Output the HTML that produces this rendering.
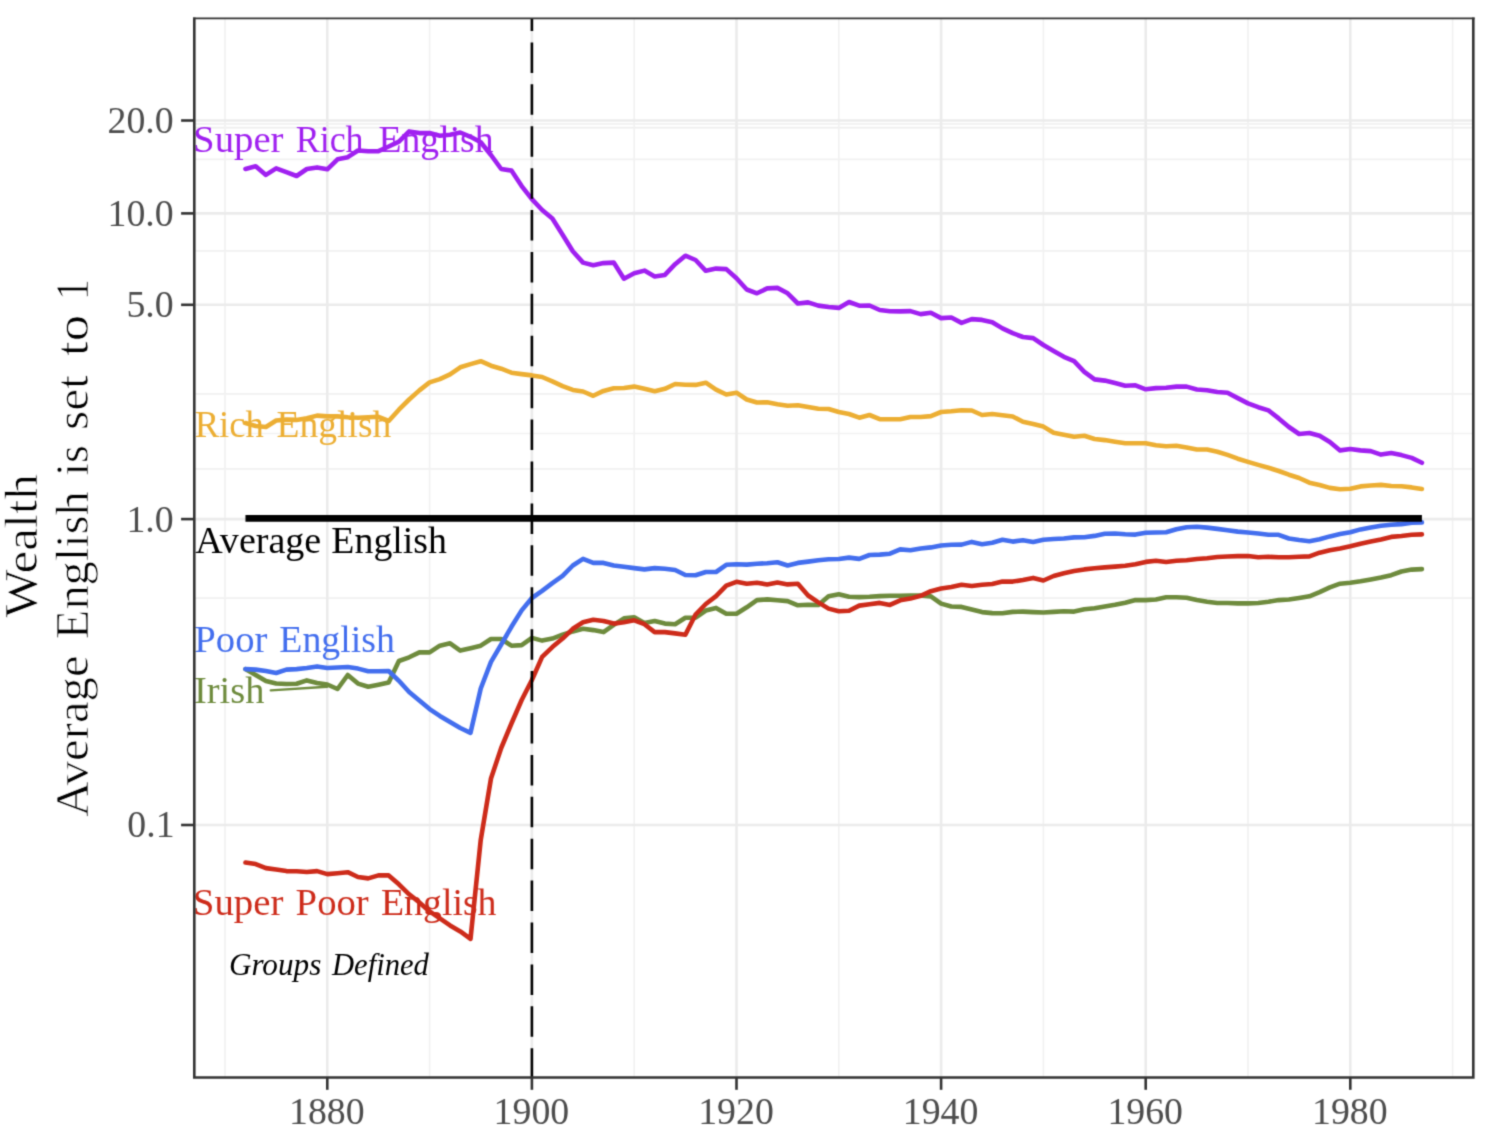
<!DOCTYPE html><html><head><meta charset="utf-8"><title>Wealth chart</title><style>
html,body{margin:0;padding:0;background:#fff;}body{width:1492px;height:1148px;overflow:hidden;}
svg{display:block;}text{font-family:"Liberation Serif","DejaVu Serif",serif;}
.er{stroke:none;stroke-width:0;paint-order:fill stroke;}.er2{stroke:#fff;stroke-width:0.7px;paint-order:fill stroke;}
</style></head><body>
<svg width="1492" height="1148" viewBox="0 0 1492 1148">
<defs><filter id="sf" filterUnits="userSpaceOnUse" x="0" y="0" width="1492" height="1148" color-interpolation-filters="sRGB"><feConvolveMatrix order="3" kernelMatrix="1 4 1 4 16 4 1 4 1" divisor="36" edgeMode="duplicate"/></filter></defs><g filter="url(#sf)">
<rect x="0" y="0" width="1492" height="1148" fill="#fff"/>
<defs><clipPath id="pc"><rect x="194.3" y="18.3" width="1279.0" height="1059.2"/></clipPath></defs>
<g clip-path="url(#pc)">
<line x1="194.3" x2="1473.3" y1="123.9" y2="123.9" stroke="#f1f1f1" stroke-width="1.7"/>
<line x1="194.3" x2="1473.3" y1="159.4" y2="159.4" stroke="#f1f1f1" stroke-width="1.7"/>
<line x1="194.3" x2="1473.3" y1="250.9" y2="250.9" stroke="#f1f1f1" stroke-width="1.7"/>
<line x1="194.3" x2="1473.3" y1="393.8" y2="393.8" stroke="#f1f1f1" stroke-width="1.7"/>
<line x1="194.3" x2="1473.3" y1="433.5" y2="433.5" stroke="#f1f1f1" stroke-width="1.7"/>
<line x1="194.3" x2="1473.3" y1="468.8" y2="468.8" stroke="#f1f1f1" stroke-width="1.7"/>
<line x1="194.3" x2="1473.3" y1="598.2" y2="598.2" stroke="#f1f1f1" stroke-width="1.7"/>
<line x1="194.3" x2="1473.3" y1="127.6" y2="127.6" stroke="#eeeeee" stroke-width="1.9"/>
<line y1="18.3" y2="1077.5" x1="225.00" x2="225.00" stroke="#f1f1f1" stroke-width="1.7"/>
<line y1="18.3" y2="1077.5" x1="429.60" x2="429.60" stroke="#f1f1f1" stroke-width="1.7"/>
<line y1="18.3" y2="1077.5" x1="634.20" x2="634.20" stroke="#f1f1f1" stroke-width="1.7"/>
<line y1="18.3" y2="1077.5" x1="838.80" x2="838.80" stroke="#f1f1f1" stroke-width="1.7"/>
<line y1="18.3" y2="1077.5" x1="1043.40" x2="1043.40" stroke="#f1f1f1" stroke-width="1.7"/>
<line y1="18.3" y2="1077.5" x1="1248.00" x2="1248.00" stroke="#f1f1f1" stroke-width="1.7"/>
<line y1="18.3" y2="1077.5" x1="1452.60" x2="1452.60" stroke="#f1f1f1" stroke-width="1.7"/>
<line x1="194.3" x2="1473.3" y1="120.5" y2="120.5" stroke="#ebebeb" stroke-width="2.6"/>
<line x1="194.3" x2="1473.3" y1="213.4" y2="213.4" stroke="#ebebeb" stroke-width="2.6"/>
<line x1="194.3" x2="1473.3" y1="304.8" y2="304.8" stroke="#ebebeb" stroke-width="2.6"/>
<line x1="194.3" x2="1473.3" y1="519.1" y2="519.1" stroke="#ebebeb" stroke-width="2.6"/>
<line x1="194.3" x2="1473.3" y1="825.0" y2="825.0" stroke="#ebebeb" stroke-width="2.6"/>
<line y1="18.3" y2="1077.5" x1="327.30" x2="327.30" stroke="#ebebeb" stroke-width="2.6"/>
<line y1="18.3" y2="1077.5" x1="531.90" x2="531.90" stroke="#ebebeb" stroke-width="2.6"/>
<line y1="18.3" y2="1077.5" x1="736.50" x2="736.50" stroke="#ebebeb" stroke-width="2.6"/>
<line y1="18.3" y2="1077.5" x1="941.10" x2="941.10" stroke="#ebebeb" stroke-width="2.6"/>
<line y1="18.3" y2="1077.5" x1="1145.70" x2="1145.70" stroke="#ebebeb" stroke-width="2.6"/>
<line y1="18.3" y2="1077.5" x1="1350.30" x2="1350.30" stroke="#ebebeb" stroke-width="2.6"/>
<text x="193.08" y="152.00" font-size="38.6" fill="#a020f0" textLength="90.43" lengthAdjust="spacingAndGlyphs" class="er">Super</text>
<text x="295.71" y="152.00" font-size="38.6" fill="#a020f0" textLength="67.88" lengthAdjust="spacingAndGlyphs" class="er">Rich</text>
<text x="378.56" y="152.00" font-size="38.6" fill="#a020f0" textLength="115.03" lengthAdjust="spacingAndGlyphs" class="er">English</text>
<text x="194.69" y="436.50" font-size="38.6" fill="#ecae33" textLength="69.21" lengthAdjust="spacingAndGlyphs" class="er">Rich</text>
<text x="276.57" y="436.50" font-size="38.6" fill="#ecae33" textLength="114.73" lengthAdjust="spacingAndGlyphs" class="er">English</text>
<text x="195.22" y="553.00" font-size="38.6" fill="#000000" textLength="126.01" lengthAdjust="spacingAndGlyphs" class="er">Average</text>
<text x="331.36" y="553.00" font-size="38.6" fill="#000000" textLength="115.64" lengthAdjust="spacingAndGlyphs" class="er">English</text>
<text x="194.34" y="652.20" font-size="38.6" fill="#436eee" textLength="73.12" lengthAdjust="spacingAndGlyphs" class="er">Poor</text>
<text x="279.36" y="652.20" font-size="38.6" fill="#436eee" textLength="115.44" lengthAdjust="spacingAndGlyphs" class="er">English</text>
<text x="194.06" y="702.90" font-size="38.6" fill="#6e8b3d" textLength="70.34" lengthAdjust="spacingAndGlyphs" class="er">Irish</text>
<text x="192.77" y="914.80" font-size="38.6" fill="#cd2b1a" textLength="90.74" lengthAdjust="spacingAndGlyphs" class="er">Super</text>
<text x="295.64" y="914.80" font-size="38.6" fill="#cd2b1a" textLength="73.12" lengthAdjust="spacingAndGlyphs" class="er">Poor</text>
<text x="381.06" y="914.80" font-size="38.6" fill="#cd2b1a" textLength="115.44" lengthAdjust="spacingAndGlyphs" class="er">English</text>
<text x="228.89" y="974.50" font-size="31.6" fill="#000" font-style="italic" textLength="92.40" lengthAdjust="spacingAndGlyphs">Groups</text>
<text x="331.98" y="974.50" font-size="31.6" fill="#000" font-style="italic" textLength="96.96" lengthAdjust="spacingAndGlyphs">Defined</text>
<polyline fill="none" stroke="#6e8b3d" stroke-width="4.6" stroke-linejoin="round" stroke-linecap="round" points="245.46,669.10 255.69,675.10 265.92,681.00 276.15,683.50 286.38,684.00 296.61,683.80 306.84,680.40 317.07,683.00 327.30,684.50 337.53,689.00 347.76,675.00 357.99,683.60 368.22,686.80 378.45,684.70 388.68,682.50 398.91,661.00 409.14,657.30 419.37,652.40 429.60,652.40 439.83,645.70 450.06,643.30 460.29,650.60 470.52,648.20 480.75,645.70 490.98,639.00 501.21,639.00 511.44,645.70 521.67,645.10 531.90,637.90 542.13,640.60 552.36,638.60 562.59,634.70 572.82,631.40 583.05,628.80 593.28,630.10 603.51,632.10 613.74,624.90 623.97,618.40 634.20,617.30 644.43,622.90 654.66,621.00 664.89,623.60 675.12,624.20 685.35,617.70 695.58,617.70 705.81,610.50 716.04,607.90 726.27,613.80 736.50,613.80 746.73,607.30 756.96,600.10 767.19,599.40 777.42,600.30 787.65,601.10 797.88,605.30 808.11,604.70 818.34,605.00 828.57,596.20 838.80,594.20 849.03,596.80 859.26,597.10 869.49,596.80 879.72,596.10 889.95,595.80 900.18,595.80 910.41,595.50 920.64,595.50 930.87,596.40 941.10,603.60 951.33,606.50 961.56,606.90 971.79,609.50 982.02,612.10 992.25,613.10 1002.48,613.20 1012.71,611.90 1022.94,611.60 1033.17,612.10 1043.40,612.50 1053.63,611.90 1063.86,611.20 1074.09,611.60 1084.32,609.30 1094.55,608.20 1104.78,606.40 1115.01,604.70 1125.24,602.70 1135.47,600.10 1145.70,600.10 1155.93,599.50 1166.16,597.30 1176.39,597.30 1186.62,597.80 1196.85,600.10 1207.08,601.70 1217.31,603.00 1227.54,603.00 1237.77,603.40 1248.00,603.40 1258.23,603.00 1268.46,601.70 1278.69,600.10 1288.92,599.50 1299.15,598.00 1309.38,596.30 1319.61,592.10 1329.84,587.40 1340.07,583.70 1350.30,582.70 1360.53,581.30 1370.76,579.40 1380.99,577.60 1391.22,575.20 1401.45,571.50 1411.68,569.60 1421.91,569.10"/>
<line x1="270.8" y1="690.4" x2="327" y2="686.8" stroke="#6e8b3d" stroke-width="2.4" stroke-linecap="round"/>
<polyline fill="none" stroke="#436eee" stroke-width="4.6" stroke-linejoin="round" stroke-linecap="round" points="245.46,669.10 255.69,669.60 265.92,671.00 276.15,673.00 286.38,669.60 296.61,669.10 306.84,668.00 317.07,666.40 327.30,668.00 337.53,667.50 347.76,667.00 357.99,668.60 368.22,671.30 378.45,671.30 388.68,671.00 398.91,680.80 409.14,692.00 419.37,700.60 429.60,709.10 439.83,715.90 450.06,722.00 460.29,728.00 470.52,732.80 480.75,688.50 490.98,661.90 501.21,644.50 511.44,626.80 521.67,610.40 531.90,598.00 542.13,590.90 552.36,583.10 562.59,575.90 572.82,565.50 583.05,558.90 593.28,562.90 603.51,562.90 613.74,565.50 623.97,566.80 634.20,568.10 644.43,569.40 654.66,568.10 664.89,568.70 675.12,570.00 685.35,575.00 695.58,575.30 705.81,572.00 716.04,572.00 726.27,564.80 736.50,564.20 746.73,564.60 756.96,563.80 767.19,563.20 777.42,562.20 787.65,565.50 797.88,562.90 808.11,561.60 818.34,560.20 828.57,559.30 838.80,559.00 849.03,557.60 859.26,558.90 869.49,555.00 879.72,554.60 889.95,553.70 900.18,549.40 910.41,550.30 920.64,548.50 930.87,547.40 941.10,545.50 951.33,544.80 961.56,544.60 971.79,541.90 982.02,544.20 992.25,542.70 1002.48,539.80 1012.71,541.60 1022.94,540.30 1033.17,542.00 1043.40,539.80 1053.63,539.00 1063.86,538.50 1074.09,537.40 1084.32,537.20 1094.55,535.90 1104.78,533.80 1115.01,533.50 1125.24,534.20 1135.47,534.60 1145.70,532.80 1155.93,532.50 1166.16,532.20 1176.39,529.30 1186.62,527.20 1196.85,526.70 1207.08,527.60 1217.31,528.90 1227.54,530.20 1237.77,531.60 1248.00,532.50 1258.23,533.50 1268.46,534.80 1278.69,534.80 1288.92,538.50 1299.15,540.00 1309.38,541.20 1319.61,539.30 1329.84,536.40 1340.07,534.10 1350.30,532.20 1360.53,529.40 1370.76,527.50 1380.99,525.70 1391.22,524.70 1401.45,524.10 1411.68,522.60 1421.91,522.40"/>
<polyline fill="none" stroke="#cd2b1a" stroke-width="4.6" stroke-linejoin="round" stroke-linecap="round" points="245.46,862.50 255.69,864.10 265.92,868.10 276.15,869.50 286.38,871.10 296.61,871.30 306.84,872.00 317.07,871.10 327.30,874.10 337.53,873.20 347.76,872.20 357.99,877.00 368.22,878.40 378.45,875.40 388.68,875.40 398.91,884.30 409.14,894.30 419.37,902.40 429.60,911.40 439.83,918.40 450.06,925.40 460.29,931.40 470.52,938.80 480.75,839.80 490.98,778.50 501.21,748.00 511.44,723.50 521.67,700.00 531.90,680.00 542.13,656.90 552.36,647.10 562.59,638.60 572.82,628.80 583.05,622.30 593.28,619.70 603.51,621.00 613.74,623.60 623.97,622.30 634.20,620.30 644.43,624.20 654.66,632.10 664.89,632.10 675.12,633.40 685.35,634.70 695.58,614.50 705.81,604.00 716.04,596.20 726.27,585.70 736.50,581.80 746.73,583.80 756.96,582.80 767.19,584.40 777.42,582.50 787.65,584.40 797.88,583.80 808.11,595.50 818.34,602.40 828.57,608.60 838.80,611.30 849.03,610.80 859.26,605.60 869.49,604.20 879.72,602.90 889.95,604.90 900.18,600.30 910.41,598.60 920.64,595.80 930.87,591.20 941.10,588.60 951.33,586.90 961.56,584.70 971.79,586.00 982.02,584.70 992.25,584.00 1002.48,581.60 1012.71,581.60 1022.94,579.90 1033.17,577.90 1043.40,580.50 1053.63,576.00 1063.86,573.30 1074.09,571.10 1084.32,569.40 1094.55,568.30 1104.78,567.40 1115.01,566.60 1125.24,565.70 1135.47,564.30 1145.70,561.90 1155.93,560.70 1166.16,562.00 1176.39,560.70 1186.62,560.30 1196.85,559.00 1207.08,558.30 1217.31,557.00 1227.54,556.50 1237.77,556.10 1248.00,556.00 1258.23,557.30 1268.46,556.80 1278.69,557.30 1288.92,557.20 1299.15,556.80 1309.38,556.40 1319.61,552.70 1329.84,550.30 1340.07,548.50 1350.30,546.30 1360.53,543.70 1370.76,541.60 1380.99,539.50 1391.22,536.90 1401.45,536.00 1411.68,534.80 1421.91,534.40"/>
<polyline fill="none" stroke="#ecae33" stroke-width="4.6" stroke-linejoin="round" stroke-linecap="round" points="245.46,423.00 255.69,426.00 265.92,427.00 276.15,420.50 286.38,419.60 296.61,419.90 306.84,418.30 317.07,415.60 327.30,416.40 337.53,416.40 347.76,417.20 357.99,417.70 368.22,417.20 378.45,416.80 388.68,421.00 398.91,409.70 409.14,399.50 419.37,390.40 429.60,382.40 439.83,379.10 450.06,374.30 460.29,367.30 470.52,364.10 480.75,361.20 490.98,365.70 501.21,368.70 511.44,372.70 521.67,374.10 531.90,375.40 542.13,377.00 552.36,381.30 562.59,386.10 572.82,389.90 583.05,391.50 593.28,395.80 603.51,390.90 613.74,388.30 623.97,388.00 634.20,386.60 644.43,388.80 654.66,391.30 664.89,388.80 675.12,384.00 685.35,384.70 695.58,384.90 705.81,382.70 716.04,389.70 726.27,394.50 736.50,392.70 746.73,399.50 756.96,402.50 767.19,402.30 777.42,404.20 787.65,405.80 797.88,405.20 808.11,407.10 818.34,408.80 828.57,409.00 838.80,412.00 849.03,414.00 859.26,417.70 869.49,415.00 879.72,419.10 889.95,419.30 900.18,419.30 910.41,417.00 920.64,417.00 930.87,416.10 941.10,412.00 951.33,411.30 961.56,410.20 971.79,410.50 982.02,415.00 992.25,414.00 1002.48,415.20 1012.71,416.50 1022.94,421.80 1033.17,424.00 1043.40,426.60 1053.63,432.80 1063.86,434.70 1074.09,436.80 1084.32,435.80 1094.55,439.00 1104.78,440.10 1115.01,441.70 1125.24,443.30 1135.47,443.30 1145.70,443.20 1155.93,445.30 1166.16,446.30 1176.39,445.80 1186.62,447.40 1196.85,449.50 1207.08,449.50 1217.31,451.70 1227.54,454.90 1237.77,458.70 1248.00,461.90 1258.23,464.90 1268.46,467.80 1278.69,471.00 1288.92,474.70 1299.15,478.00 1309.38,482.70 1319.61,485.00 1329.84,487.90 1340.07,489.30 1350.30,488.80 1360.53,486.40 1370.76,485.50 1380.99,484.90 1391.22,486.00 1401.45,486.20 1411.68,487.40 1421.91,489.00"/>
<polyline fill="none" stroke="#a020f0" stroke-width="4.6" stroke-linejoin="round" stroke-linecap="round" points="245.46,169.00 255.69,166.30 265.92,174.90 276.15,168.40 286.38,172.20 296.61,176.00 306.84,169.00 317.07,167.40 327.30,169.30 337.53,159.30 347.76,157.20 357.99,150.50 368.22,151.30 378.45,151.10 388.68,146.50 398.91,141.60 409.14,131.40 419.37,133.10 429.60,133.10 439.83,135.70 450.06,134.70 460.29,132.50 470.52,136.80 480.75,142.20 490.98,155.00 501.21,169.00 511.44,170.60 521.67,186.10 531.90,199.20 542.13,210.00 552.36,218.60 562.59,234.70 572.82,251.30 583.05,262.60 593.28,265.30 603.51,263.10 613.74,262.60 623.97,278.70 634.20,273.30 644.43,270.60 654.66,276.50 664.89,274.90 675.12,264.20 685.35,255.70 695.58,260.00 705.81,270.80 716.04,268.60 726.27,269.10 736.50,278.30 746.73,289.50 756.96,293.30 767.19,288.40 777.42,287.90 787.65,293.30 797.88,303.50 808.11,302.40 818.34,305.60 828.57,307.00 838.80,307.90 849.03,302.00 859.26,305.70 869.49,305.50 879.72,310.00 889.95,311.30 900.18,311.40 910.41,311.10 920.64,314.10 930.87,312.70 941.10,318.10 951.33,317.50 961.56,322.90 971.79,319.10 982.02,319.90 992.25,322.20 1002.48,328.40 1012.71,333.20 1022.94,337.00 1033.17,338.10 1043.40,345.00 1053.63,350.90 1063.86,356.80 1074.09,361.10 1084.32,371.80 1094.55,379.40 1104.78,380.60 1115.01,383.10 1125.24,385.80 1135.47,385.30 1145.70,389.30 1155.93,388.10 1166.16,387.70 1176.39,386.60 1186.62,386.60 1196.85,389.50 1207.08,390.20 1217.31,392.00 1227.54,392.70 1237.77,398.10 1248.00,403.40 1258.23,407.20 1268.46,410.40 1278.69,418.40 1288.92,427.00 1299.15,434.00 1309.38,433.00 1319.61,435.80 1329.84,441.90 1340.07,450.40 1350.30,449.00 1360.53,450.40 1370.76,451.10 1380.99,454.60 1391.22,453.00 1401.45,455.10 1411.68,457.90 1421.91,462.80"/>
<line x1="245.46" x2="1421.91" y1="518.4" y2="518.4" stroke="#000" stroke-width="6.6"/>
<line x1="531.90" x2="531.90" y1="0.5" y2="1100" stroke="#000" stroke-width="2.6" stroke-dasharray="30.5 11.41"/>
</g>
<path d="M194.3,17.5 V1077.5 H1473.3 V17.5" fill="none" stroke="#333" stroke-width="2.6" stroke-linejoin="miter" stroke-linecap="butt"/>
<line x1="193.0" x2="1474.6" y1="18.3" y2="18.3" stroke="#333" stroke-width="1.7"/>
<line x1="181.1" x2="194.3" y1="120.5" y2="120.5" stroke="#333" stroke-width="2.6"/>
<line x1="181.1" x2="194.3" y1="213.4" y2="213.4" stroke="#333" stroke-width="2.6"/>
<line x1="181.1" x2="194.3" y1="304.8" y2="304.8" stroke="#333" stroke-width="2.6"/>
<line x1="181.1" x2="194.3" y1="519.1" y2="519.1" stroke="#333" stroke-width="2.6"/>
<line x1="181.1" x2="194.3" y1="825.0" y2="825.0" stroke="#333" stroke-width="2.6"/>
<line y1="1077.5" y2="1089.8" x1="327.30" x2="327.30" stroke="#333" stroke-width="2.6"/>
<line y1="1077.5" y2="1089.8" x1="531.90" x2="531.90" stroke="#333" stroke-width="2.6"/>
<line y1="1077.5" y2="1089.8" x1="736.50" x2="736.50" stroke="#333" stroke-width="2.6"/>
<line y1="1077.5" y2="1089.8" x1="941.10" x2="941.10" stroke="#333" stroke-width="2.6"/>
<line y1="1077.5" y2="1089.8" x1="1145.70" x2="1145.70" stroke="#333" stroke-width="2.6"/>
<line y1="1077.5" y2="1089.8" x1="1350.30" x2="1350.30" stroke="#333" stroke-width="2.6"/>
<text x="107.57" y="132.95" font-size="37.8" fill="#4d4d4d" textLength="66.15" lengthAdjust="spacingAndGlyphs" class="er">20.0</text>
<text x="107.57" y="225.85" font-size="37.8" fill="#4d4d4d" textLength="66.15" lengthAdjust="spacingAndGlyphs" class="er">10.0</text>
<text x="126.47" y="317.25" font-size="37.8" fill="#4d4d4d" textLength="47.25" lengthAdjust="spacingAndGlyphs" class="er">5.0</text>
<text x="126.47" y="531.55" font-size="37.8" fill="#4d4d4d" textLength="47.25" lengthAdjust="spacingAndGlyphs" class="er">1.0</text>
<text x="127.32" y="837.45" font-size="37.8" fill="#4d4d4d" textLength="47.25" lengthAdjust="spacingAndGlyphs" class="er">0.1</text>
<text x="289.00" y="1124.20" font-size="37.8" fill="#4d4d4d" textLength="75.60" lengthAdjust="spacingAndGlyphs" class="er">1880</text>
<text x="493.61" y="1124.20" font-size="37.8" fill="#4d4d4d" textLength="75.60" lengthAdjust="spacingAndGlyphs" class="er">1900</text>
<text x="698.21" y="1124.20" font-size="37.8" fill="#4d4d4d" textLength="75.60" lengthAdjust="spacingAndGlyphs" class="er">1920</text>
<text x="902.81" y="1124.20" font-size="37.8" fill="#4d4d4d" textLength="75.60" lengthAdjust="spacingAndGlyphs" class="er">1940</text>
<text x="1107.41" y="1124.20" font-size="37.8" fill="#4d4d4d" textLength="75.60" lengthAdjust="spacingAndGlyphs" class="er">1960</text>
<text x="1312.01" y="1124.20" font-size="37.8" fill="#4d4d4d" textLength="75.60" lengthAdjust="spacingAndGlyphs" class="er">1980</text>
<text transform="rotate(-90)" x="-617.70" y="37.00" font-size="46" fill="#000" textLength="143.53" lengthAdjust="spacingAndGlyphs" class="er2">Wealth</text>
<text transform="rotate(-90)" x="-816.79" y="87.90" font-size="46" fill="#000" textLength="161.29" lengthAdjust="spacingAndGlyphs" class="er2">Average</text>
<text transform="rotate(-90)" x="-639.23" y="87.90" font-size="46" fill="#000" textLength="148.07" lengthAdjust="spacingAndGlyphs" class="er2">English</text>
<text transform="rotate(-90)" x="-475.81" y="87.90" font-size="46" fill="#000" textLength="30.51" lengthAdjust="spacingAndGlyphs" class="er2">is</text>
<text transform="rotate(-90)" x="-429.98" y="87.90" font-size="46" fill="#000" textLength="54.97" lengthAdjust="spacingAndGlyphs" class="er2">set</text>
<text transform="rotate(-90)" x="-355.93" y="87.90" font-size="46" fill="#000" textLength="40.92" lengthAdjust="spacingAndGlyphs" class="er2">to</text>
<text transform="rotate(-90)" x="-300.40" y="87.90" font-size="46" fill="#000" textLength="21.70" lengthAdjust="spacingAndGlyphs" class="er2">1</text>
</g></svg></body></html>
